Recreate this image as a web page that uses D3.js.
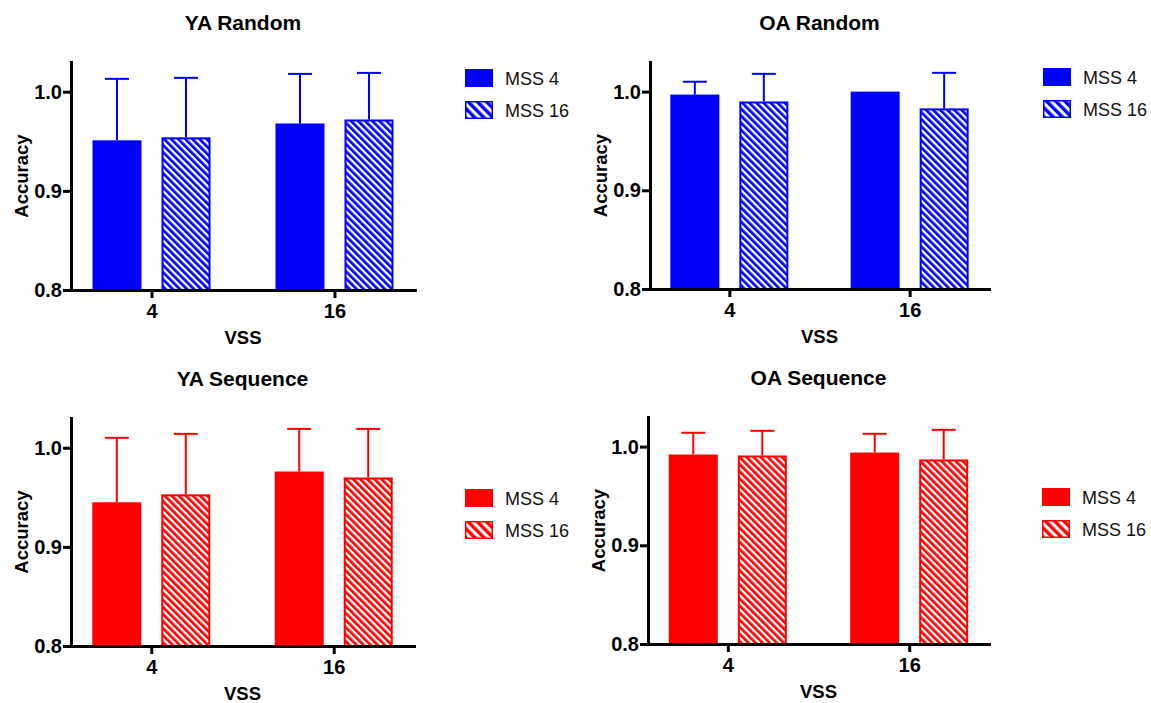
<!DOCTYPE html>
<html>
<head>
<meta charset="utf-8">
<script src="https://cdn.jsdelivr.net/npm/d3@7"></script>
<style>
  html, body { margin: 0; padding: 0; background: #fff; }
  svg { display: block; font-family: "Liberation Sans", Arial, Helvetica, sans-serif; }
</style>
</head>
<body>
<svg id="chart" width="1151" height="703"></svg>
<script>
// ---- data ----
const vssCategories = ["4", "16"];
const mssSeries = ["MSS 4", "MSS 16"];
const yTicks = [0.8, 0.9, 1.0];
const panelTitles = ["YA Random", "OA Random", "YA Sequence", "OA Sequence"];
const panelColors = ["#0000ff", "#0000ff", "#ff0000", "#ff0000"];

// means per panel: [MSS 4 at VSS 4, VSS 16], [MSS 16 at VSS 4, VSS 16]
const yaRandomMss4 = [0.951, 0.968];
const yaRandomMss16 = [0.954, 0.972];
const oaRandomMss4 = [0.997, 1.000];
const oaRandomMss16 = [0.990, 0.983];
const yaSequenceMss4 = [0.945, 0.976];
const yaSequenceMss16 = [0.953, 0.970];
const oaSequenceMss4 = [0.992, 0.994];
const oaSequenceMss16 = [0.991, 0.987];

// upper error (SD) per panel
const yaRandomErr4 = [0.062, 0.050];
const yaRandomErr16 = [0.060, 0.047];
const oaRandomErr4 = [0.013, 0.000];
const oaRandomErr16 = [0.028, 0.036];
const yaSequenceErr4 = [0.065, 0.043];
const yaSequenceErr16 = [0.061, 0.049];
const oaSequenceErr4 = [0.022, 0.019];
const oaSequenceErr16 = [0.025, 0.030];

const panelMeans = [
  [yaRandomMss4, yaRandomMss16],
  [oaRandomMss4, oaRandomMss16],
  [yaSequenceMss4, yaSequenceMss16],
  [oaSequenceMss4, oaSequenceMss16]
];
const panelErrs = [
  [yaRandomErr4, yaRandomErr16],
  [oaRandomErr4, oaRandomErr16],
  [yaSequenceErr4, yaSequenceErr16],
  [oaSequenceErr4, oaSequenceErr16]
];

// ---- layout ----
const layout = [
  { x: 71,  y: 62,  w: 344, h: 228, legX: 465,  legY: 69 },
  { x: 650, y: 62,  w: 339, h: 227, legX: 1043, legY: 68 },
  { x: 71,  y: 418, w: 343, h: 228, legX: 465,  legY: 489 },
  { x: 648, y: 417, w: 341, h: 227, legX: 1042, legY: 488 }
];

const svg = d3.select("#chart");
const defs = svg.append("defs");

function makePattern(id, color, size, lw) {
  const p = defs.append("pattern")
    .attr("id", id)
    .attr("patternUnits", "userSpaceOnUse")
    .attr("width", size).attr("height", size)
    .attr("patternTransform", "rotate(-45)");
  p.append("rect").attr("width", size).attr("height", size).attr("fill", "#fff");
  p.append("rect").attr("x", 0).attr("y", 0).attr("width", lw).attr("height", size).attr("fill", color);
}
makePattern("hatch-blue", "#0000ff", 5, 2.7);
makePattern("hatch-red", "#ff0000", 5, 2.7);
makePattern("hatch-blue-leg", "#0000ff", 6.5, 3.4);
makePattern("hatch-red-leg", "#ff0000", 6.5, 3.4);

panelTitles.forEach((title, i) => {
  const L = layout[i];
  const color = panelColors[i];
  const hatchId = color === "#0000ff" ? "hatch-blue" : "hatch-red";
  const g = svg.append("g").attr("transform", `translate(${L.x},${L.y})`);

  const x = d3.scalePoint().domain(vssCategories).range([0, L.w]).padding(0.44);
  const xi = d3.scaleBand().domain(mssSeries).range([-59, 59]).paddingInner(0.29).paddingOuter(0);
  const y = d3.scaleLinear().domain([0.8, 1.03]).range([L.h, 0]);

  const rows = [];
  mssSeries.forEach((s, si) => {
    vssCategories.forEach((c, ci) => {
      rows.push({ s, si, c, v: panelMeans[i][si][ci], e: panelErrs[i][si][ci] });
    });
  });

  // error bars (upper only)
  const eb = g.append("g").selectAll("g").data(rows.filter(d => d.e > 0)).join("g");
  eb.append("line")
    .attr("x1", d => x(d.c) + xi(d.s) + xi.bandwidth() / 2)
    .attr("x2", d => x(d.c) + xi(d.s) + xi.bandwidth() / 2)
    .attr("y1", d => y(d.v))
    .attr("y2", d => y(d.v + d.e))
    .attr("stroke", color).attr("stroke-width", 2);
  eb.append("line")
    .attr("x1", d => x(d.c) + xi(d.s) + xi.bandwidth() / 2 - 12)
    .attr("x2", d => x(d.c) + xi(d.s) + xi.bandwidth() / 2 + 12)
    .attr("y1", d => y(d.v + d.e))
    .attr("y2", d => y(d.v + d.e))
    .attr("stroke", color).attr("stroke-width", 2);

  // bars
  g.append("g").selectAll("rect").data(rows).join("rect")
    .attr("x", d => x(d.c) + xi(d.s) + (d.si === 1 ? 1 : 0))
    .attr("width", d => xi.bandwidth() - (d.si === 1 ? 2 : 0))
    .attr("y", d => y(d.v) + (d.si === 1 ? 1 : 0))
    .attr("height", d => y(0.8) - y(d.v) - (d.si === 1 ? 1 : 0))
    .attr("fill", d => d.si === 0 ? color : `url(#${hatchId})`)
    .attr("stroke", d => d.si === 0 ? "none" : color)
    .attr("stroke-width", 2);

  // axes
  const yAxis = g.append("g")
    .call(d3.axisLeft(y).tickValues(yTicks).tickFormat(d3.format(".1f")).tickSize(8).tickSizeOuter(0).tickPadding(1));
  const xAxis = g.append("g").attr("transform", `translate(0,${L.h})`)
    .call(d3.axisBottom(x).tickSize(8).tickSizeOuter(0).tickPadding(4));
  [yAxis, xAxis].forEach(a => {
    a.select(".domain").attr("stroke", "#000").attr("stroke-width", 3).attr("stroke-linecap", "square");
    a.selectAll(".tick line").attr("stroke", "#000").attr("stroke-width", 3);
    a.selectAll(".tick text").attr("fill", "#000").attr("font-size", 20).attr("font-weight", "bold")
      .attr("font-family", "'Liberation Sans', Arial, sans-serif");
  });
  xAxis.selectAll(".tick text").attr("dy", "0.78em");

  // title
  g.append("text").attr("x", L.w / 2).attr("y", -32)
    .attr("text-anchor", "middle").attr("font-size", 21).attr("font-weight", "bold").text(title);
  // x label
  g.append("text").attr("x", L.w / 2).attr("y", L.h + 54)
    .attr("text-anchor", "middle").attr("font-size", 18.5).attr("font-weight", "bold").text("VSS");
  // y label
  g.append("text").attr("transform", `translate(-43,${L.h / 2}) rotate(-90)`)
    .attr("text-anchor", "middle").attr("font-size", 18.5).attr("font-weight", "bold").text("Accuracy");

  // legend
  const leg = svg.append("g").attr("transform", `translate(${L.legX},${L.legY})`);
  const li = leg.selectAll("g").data(mssSeries).join("g")
    .attr("transform", (d, k) => `translate(0,${k * 32})`);
  li.append("rect")
    .attr("x", (d, k) => k === 1 ? 0.75 : 0).attr("y", (d, k) => k === 1 ? 0.75 : 0)
    .attr("width", (d, k) => k === 1 ? 26.5 : 28).attr("height", (d, k) => k === 1 ? 16.5 : 18)
    .attr("fill", (d, k) => k === 0 ? color : `url(#${hatchId}-leg)`)
    .attr("stroke", (d, k) => k === 0 ? "none" : color).attr("stroke-width", 1.5);
  li.append("text").attr("x", 40).attr("y", 16).attr("font-size", 18).attr("fill", "#111").text(d => d);
});
</script>
</body>
</html>
